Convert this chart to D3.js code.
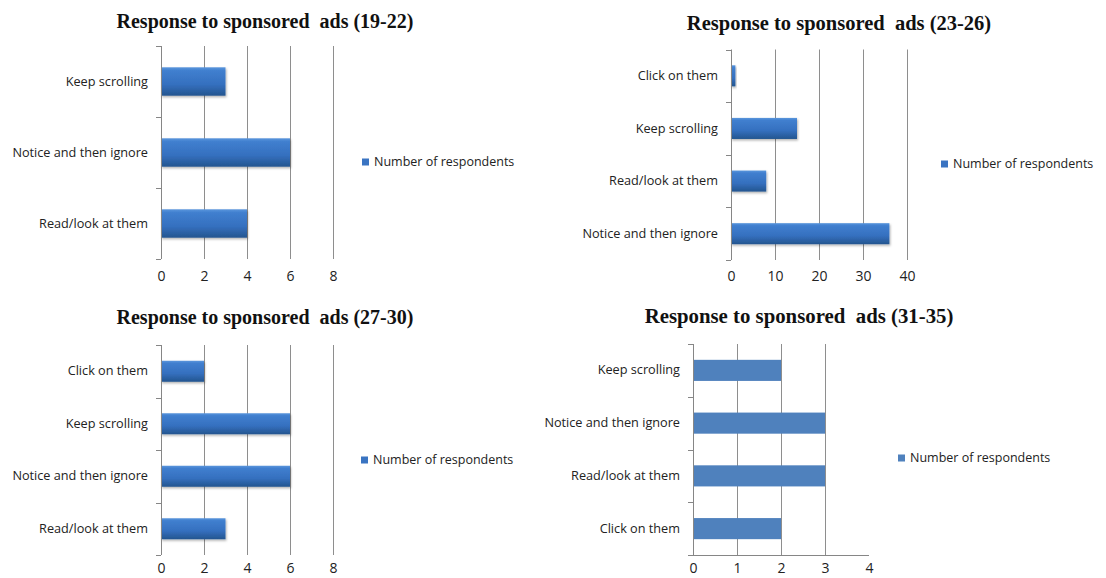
<!DOCTYPE html>
<html>
<head>
<meta charset="utf-8">
<script src="https://cdn.jsdelivr.net/npm/d3@7"></script>
<style>
  body { margin: 0; background: #fff; }
  svg { display: block; }
</style>
</head>
<body>
<div id="chart"></div>
<script>
// data
const seriesName = "Number of respondents";
const titles = [
  "Response to sponsored  ads (19-22)",
  "Response to sponsored  ads (23-26)",
  "Response to sponsored  ads (27-30)",
  "Response to sponsored  ads (31-35)"
];
const cats1 = ["Keep scrolling", "Notice and then ignore", "Read/look at them"];
const vals1 = [3, 6, 4];
const cats2 = ["Click on them", "Keep scrolling", "Read/look at them", "Notice and then ignore"];
const vals2 = [1, 15, 8, 36];
const cats3 = ["Click on them", "Keep scrolling", "Notice and then ignore", "Read/look at them"];
const vals3 = [2, 6, 6, 3];
const cats4 = ["Keep scrolling", "Notice and then ignore", "Read/look at them", "Click on them"];
const vals4 = [2, 3, 3, 2];
const ticks1 = [0, 2, 4, 6, 8];
const ticks2 = [0, 10, 20, 30, 40];
const ticks3 = [0, 2, 4, 6, 8];
const ticks4 = [0, 1, 2, 3, 4];

// layout for each panel
const panels = [
  {title: titles[0], cats: cats1, vals: vals1, ticks: ticks1, tsize: 20,
   x0: 161, x1: 333, y0: 46, y1: 259, tx: 265, ty: 28, lx: 362, ly: 162, tickY: 277, shaded: true, lastGrid: true, xLine: false},
  {title: titles[1], cats: cats2, vals: vals2, ticks: ticks2, tsize: 20.5,
   x0: 731, x1: 907, y0: 49.5, y1: 260, tx: 839, ty: 30, lx: 941, ly: 164, tickY: 277, shaded: true, lastGrid: true, xLine: false},
  {title: titles[2], cats: cats3, vals: vals3, ticks: ticks3, tsize: 20,
   x0: 161, x1: 333, y0: 345, y1: 555, tx: 265, ty: 324, lx: 361, ly: 460, tickY: 569.5, shaded: true, lastGrid: true, xLine: false},
  {title: titles[3], cats: cats4, vals: vals4, ticks: ticks4, tsize: 20.8,
   x0: 693, x1: 869, y0: 344, y1: 555, tx: 799, ty: 323, lx: 898, ly: 458, tickY: 569.5, shaded: false, lastGrid: false, xLine: true}
];

const W = 1106, H = 578;
const labelFont = "'Open Sans', sans-serif";

let svg = d3.select("#chart").append("svg")
  .attr("width", W)
  .attr("height", H);

let defs = svg.append("defs");
let grad = defs.append("linearGradient")
  .attr("id", "barGrad")
  .attr("x1", 0).attr("y1", 0).attr("x2", 0).attr("y2", 1);
grad.append("stop").attr("offset", "0%").attr("stop-color", "#5a96dc");
grad.append("stop").attr("offset", "12%").attr("stop-color", "#407fcf");
grad.append("stop").attr("offset", "60%").attr("stop-color", "#3570bf");
grad.append("stop").attr("offset", "100%").attr("stop-color", "#23558f");

let shadow = defs.append("filter").attr("id", "barShadow")
  .attr("x", "-10%").attr("y", "-20%").attr("width", "130%").attr("height", "160%");
shadow.append("feDropShadow")
  .attr("dx", 1).attr("dy", 1.5).attr("stdDeviation", 1)
  .attr("flood-color", "#000").attr("flood-opacity", 0.3);

function drawPanel(p) {
  let g = svg.append("g");

  let x = d3.scaleLinear()
    .domain([p.ticks[0], p.ticks[p.ticks.length - 1]])
    .range([p.x0, p.x1]);

  let y = d3.scaleBand()
    .domain(p.cats)
    .range([p.y0, p.y1])
    .paddingInner(0.6)
    .paddingOuter(0.3);

  // title
  g.append("text")
    .attr("x", p.tx)
    .attr("y", p.ty)
    .attr("text-anchor", "middle")
    .style("white-space", "pre")
    .style("font-family", "'Liberation Serif', 'Times New Roman', serif")
    .style("font-weight", "bold")
    .style("font-size", p.tsize + "px")
    .attr("fill", "#111")
    .text(p.title);

  // vertical gridlines
  let gridTicks = p.ticks.slice(1, p.lastGrid ? p.ticks.length : p.ticks.length - 1);
  g.selectAll(".grid")
    .data(gridTicks)
    .enter()
    .append("line")
    .attr("x1", d => x(d) + 0.5)
    .attr("x2", d => x(d) + 0.5)
    .attr("y1", p.y0)
    .attr("y2", p.y1)
    .attr("stroke", "#8e8e8e")
    .attr("stroke-width", 1);

  // bars
  g.selectAll(".bar")
    .data(p.cats)
    .enter()
    .append("rect")
    .attr("x", x(0))
    .attr("y", d => y(d))
    .attr("width", (d, i) => x(p.vals[i]) - x(0))
    .attr("height", y.bandwidth())
    .attr("fill", p.shaded ? "url(#barGrad)" : "#4f81bd")
    .attr("filter", p.shaded ? "url(#barShadow)" : null);

  // category axis: line + ticks at band boundaries
  g.append("line")
    .attr("x1", x(0) + 0.5).attr("x2", x(0) + 0.5)
    .attr("y1", p.y0).attr("y2", p.y1)
    .attr("stroke", "#868686");
  let bounds = d3.range(p.cats.length + 1).map(i => p.y0 + i * y.step());
  g.selectAll(".ytick")
    .data(bounds)
    .enter()
    .append("line")
    .attr("x1", x(0) - 5).attr("x2", x(0))
    .attr("y1", d => Math.round(d) + 0.5)
    .attr("y2", d => Math.round(d) + 0.5)
    .attr("stroke", "#868686");

  if (p.xLine) {
    g.append("line")
      .attr("x1", x(0) - 5).attr("x2", p.x1)
      .attr("y1", Math.round(p.y1) + 0.5).attr("y2", Math.round(p.y1) + 0.5)
      .attr("stroke", "#868686");
  }

  let yAxis = g.append("g")
    .attr("transform", `translate(${x(0)},0)`)
    .call(d3.axisLeft(y).tickSize(0).tickPadding(13));
  yAxis.select(".domain").remove();
  yAxis.selectAll("text")
    .style("font-family", labelFont)
    .style("font-size", "12.7px")
    .attr("fill", "#222");

  let xAxis = g.append("g")
    .attr("transform", `translate(0,${p.tickY - 6})`)
    .call(d3.axisBottom(x).tickValues(p.ticks).tickSize(0).tickPadding(0).tickFormat(d3.format("d")));
  xAxis.select(".domain").remove();
  xAxis.selectAll("text")
    .style("font-family", labelFont)
    .style("font-size", "14px")
    .attr("fill", "#222");

  // legend
  g.append("rect")
    .attr("x", p.lx)
    .attr("y", p.ly - 3.5)
    .attr("width", 7)
    .attr("height", 7)
    .attr("fill", p.shaded ? "#3a74c2" : "#4f81bd");
  g.append("text")
    .attr("x", p.lx + 12)
    .attr("y", p.ly)
    .attr("dy", "0.35em")
    .style("font-family", labelFont)
    .style("font-size", "12.5px")
    .attr("fill", "#222")
    .text(seriesName);
}

panels.forEach(drawPanel);
</script>
</body>
</html>
